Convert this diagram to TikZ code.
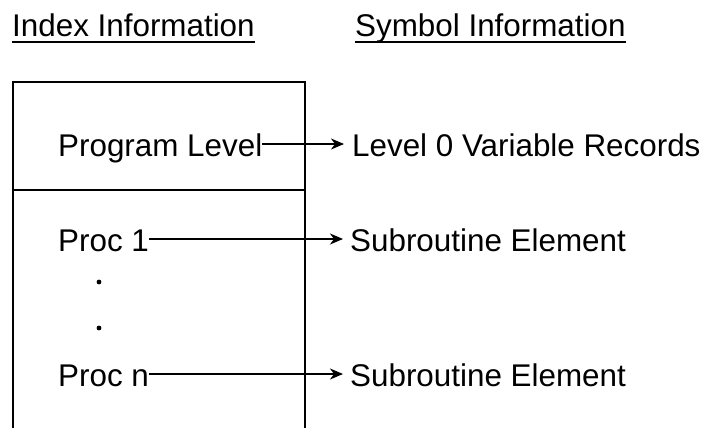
\documentclass[tikz,border=0pt]{standalone}
\usepackage{fontspec}
\setmainfont{Liberation Sans}
\usetikzlibrary{arrows.meta}
\begin{document}
\begin{tikzpicture}[x=1bp,y=-1bp,
  txt/.style={anchor=base west,inner sep=0pt,font=\fontsize{31.5}{38}\selectfont},
  boxline/.style={line width=1.8bp},
  uline/.style={line width=1.4bp},
  arr/.style={line width=1.5bp,-{Stealth[length=13bp,width=11bp,inset=4bp]}}]
\useasboundingbox (0,0) rectangle (720,428);
% headers
\node[txt] (hidx) at (12,36) {Index Information};
\node[txt] (hsym) at (355,36) {Symbol Information};
\draw[uline] ([yshift=-6bp]hidx.base west) -- ([yshift=-6bp]hidx.base east);
\draw[uline] ([yshift=-6bp]hsym.base west) -- ([yshift=-6bp]hsym.base east);
% box
\draw[boxline] (13,428) -- (13,82) -- (305,82) -- (305,428);
\draw[boxline] (13,190) -- (305,190);
% left entries
\node[txt] (pl) at (58,156) {Program Level};
\node[txt] (p1) at (58,251) {Proc 1};
\node[txt] (pn) at (58,386) {Proc n};
\fill (99,282) circle (2.4);
\fill (99,328) circle (2.4);
% right entries
\node[txt] (lv) at (352,156) {Level 0 Variable Records};
\node[txt] (s1) at (350,251) {Subroutine Element};
\node[txt] (sn) at (350,386) {Subroutine Element};
% arrows
\draw[arr] ([yshift=12bp]pl.base east) -- ([yshift=12bp,xshift=-8bp]lv.base west);
\draw[arr] ([yshift=12bp]p1.base east) -- ([yshift=12bp,xshift=-7bp]s1.base west);
\draw[arr] ([yshift=12bp]pn.base east) -- ([yshift=12bp,xshift=-7bp]sn.base west);
\end{tikzpicture}
\end{document}
